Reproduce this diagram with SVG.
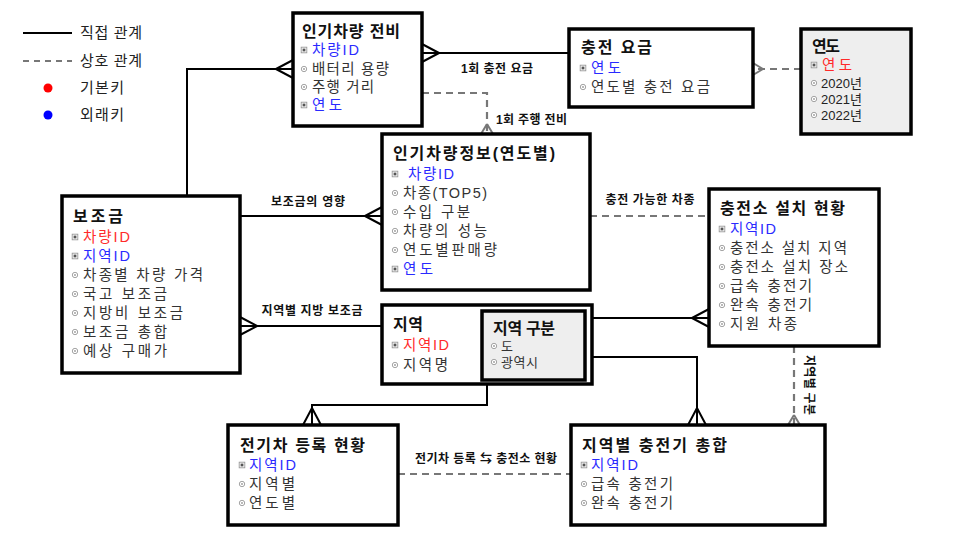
<svg xmlns="http://www.w3.org/2000/svg" xmlns:xlink="http://www.w3.org/1999/xlink" width="960" height="540" viewBox="0 0 960 540">
<style>
text{font-family:"Liberation Sans","Noto Sans CJK KR",sans-serif;}
.box{fill:#fff;stroke:#000;stroke-width:3.5;}
.gbox{fill:#eeeeee;stroke:#000;stroke-width:3.5;}
.title{font-size:16px;font-weight:bold;fill:#111;}
.at{font-size:14.5px;fill:#333;}
.fk{font-size:14.5px;fill:#2a2aff;}
.pk{font-size:14.5px;fill:#ff2a2a;}
.sm{font-size:13px;fill:#222;}
.solid{fill:none;stroke:#000;stroke-width:2;}
.dash{fill:none;stroke:#777;stroke-width:2.2;stroke-dasharray:7,5;}
.lbl{font-size:12px;font-weight:bold;fill:#111;}
.leg{font-size:15px;fill:#222;}
</style>
<defs>
<marker id="crow" markerUnits="userSpaceOnUse" markerWidth="40" markerHeight="40" viewBox="-20 -20 40 40" refX="0" refY="0" orient="auto" overflow="visible">
<path d="M-17,0 L0,-9 M-17,0 L0,9" fill="none" stroke="#000" stroke-width="2"/>
</marker>
<marker id="gcrow" markerUnits="userSpaceOnUse" markerWidth="40" markerHeight="40" viewBox="-20 -20 40 40" refX="0" refY="0" orient="auto" overflow="visible">
<path d="M-10,0 L0,-6 M-10,0 L0,6" fill="none" stroke="#777" stroke-width="2"/>
</marker>
<g id="ik"><rect x="-2.8" y="-2.8" width="5.6" height="5.6" fill="#fff" stroke="#999" stroke-width="0.9"/><rect x="-1.4" y="-1.4" width="2.8" height="2.8" fill="#555"/></g>
<g id="ia"><circle r="2.7" fill="#fff" stroke="#999" stroke-width="0.9"/><circle r="0.9" fill="#999"/></g>
</defs>
<rect width="960" height="540" fill="#fff"/>

<g id="legend">
<line x1="23" y1="33" x2="72" y2="33" class="solid"/>
<text x="80" y="38" class="leg" textLength="62">직접 관계</text>
<line x1="23" y1="61" x2="72" y2="61" class="dash" style="stroke-dasharray:6,5"/>
<text x="80" y="66" class="leg" textLength="62">상호 관계</text>
<circle cx="48" cy="88" r="4.5" fill="#ff0000"/>
<text x="80" y="93" class="leg" textLength="44">기본키</text>
<circle cx="48" cy="115" r="4.5" fill="#0000ff"/>
<text x="80" y="120" class="leg" textLength="44">외래키</text>
</g>

<g id="connectors">
<path d="M187,196 V69 H293" class="solid" marker-end="url(#crow)"/>
<path d="M569,53 H422" class="solid" marker-end="url(#crow)"/>
<path d="M801,69 H753" class="dash" marker-end="url(#gcrow)"/>
<path d="M422,93 H487 V134" class="dash" marker-end="url(#gcrow)"/>
<path d="M240,216 H382" class="solid" marker-end="url(#crow)"/>
<path d="M590,216 H709" class="dash"/>
<path d="M382,326 H240" class="solid" marker-end="url(#crow)"/>
<path d="M592,318 H709" class="solid" marker-end="url(#crow)"/>
<path d="M592,357 H697 V425" class="solid" marker-end="url(#crow)"/>
<path d="M487,384 V405 H312 V425" class="solid" marker-end="url(#crow)"/>
<path d="M794,346 V425" class="dash" marker-end="url(#gcrow)"/>
<path d="M398,474 H571" class="dash"/>
<text x="497" y="73" class="lbl" text-anchor="middle" textLength="72">1회 충전 요금</text>
<text x="496" y="124" class="lbl" textLength="71">1회 주행 전비</text>
<text x="308" y="206" class="lbl" text-anchor="middle" textLength="74">보조금의 영향</text>
<text x="650" y="204" class="lbl" text-anchor="middle" textLength="89">충전 가능한 차종</text>
<text x="312" y="315" class="lbl" text-anchor="middle" textLength="101">지역별 지방 보조금</text>
<text x="486" y="463" class="lbl" text-anchor="middle" textLength="142">전기차 등록 ⇆ 충전소 현황</text>
<text x="0" y="0" class="lbl" text-anchor="middle" textLength="60" transform="translate(805,385) rotate(90)">지역별 구분</text>
</g>

<g id="node-ev-efficiency">
<rect x="293" y="13" width="129" height="113" class="box"/>
<text x="302" y="37" class="title" textLength="98">인기차량 전비</text>
<use xlink:href="#ik" href="#ik" x="304" y="50"/><text x="312" y="55" class="fk" textLength="47">차량ID</text>
<use xlink:href="#ia" href="#ia" x="304" y="69"/><text x="312" y="74" class="at" textLength="77">배터리 용량</text>
<use xlink:href="#ia" href="#ia" x="304" y="87"/><text x="312" y="92" class="at" textLength="62">주행 거리</text>
<use xlink:href="#ik" href="#ik" x="304" y="105"/><text x="312" y="110" class="fk" textLength="30">연도</text>
</g>

<g id="node-charge-fee">
<rect x="569" y="29" width="184" height="78" class="box"/>
<text x="581" y="53" class="title" textLength="71">충전 요금</text>
<use xlink:href="#ik" href="#ik" x="583" y="68"/><text x="591" y="73" class="fk" textLength="30">연도</text>
<use xlink:href="#ia" href="#ia" x="583" y="87"/><text x="591" y="92" class="at" textLength="119">연도별 충전 요금</text>
</g>

<g id="node-year">
<rect x="801" y="29" width="110" height="105" class="gbox"/>
<text x="812" y="52" class="title" textLength="28">연도</text>
<use xlink:href="#ik" href="#ik" x="814" y="65"/><text x="822" y="70" class="pk" textLength="30">연도</text>
<use xlink:href="#ia" href="#ia" x="814" y="83"/><text x="821" y="88" class="sm" textLength="41">2020년</text>
<use xlink:href="#ia" href="#ia" x="814" y="99"/><text x="821" y="104" class="sm" textLength="41">2021년</text>
<use xlink:href="#ia" href="#ia" x="814" y="115"/><text x="821" y="120" class="sm" textLength="41">2022년</text>
</g>

<g id="node-popular-car">
<rect x="382" y="134" width="208" height="156" class="box"/>
<text x="393" y="159" class="title" textLength="162">인기차량정보(연도별)</text>
<use xlink:href="#ik" href="#ik" x="395" y="174"/><text x="408" y="179" class="fk" textLength="46">차량ID</text>
<use xlink:href="#ia" href="#ia" x="395" y="193"/><text x="403" y="198" class="at" textLength="84">차종(TOP5)</text>
<use xlink:href="#ia" href="#ia" x="395" y="212"/><text x="403" y="217" class="at" textLength="67">수입 구분</text>
<use xlink:href="#ia" href="#ia" x="395" y="231"/><text x="403" y="236" class="at" textLength="84">차량의 성능</text>
<use xlink:href="#ia" href="#ia" x="395" y="250"/><text x="403" y="255" class="at" textLength="94">연도별판매량</text>
<use xlink:href="#ik" href="#ik" x="395" y="269"/><text x="403" y="274" class="fk" textLength="30">연도</text>
</g>

<g id="node-station">
<rect x="709" y="189" width="170" height="157" class="box"/>
<text x="720" y="214" class="title" textLength="125">충전소 설치 현황</text>
<use xlink:href="#ik" href="#ik" x="722" y="229"/><text x="730" y="234" class="fk" textLength="46">지역ID</text>
<use xlink:href="#ia" href="#ia" x="722" y="248"/><text x="730" y="253" class="at" textLength="117">충전소 설치 지역</text>
<use xlink:href="#ia" href="#ia" x="722" y="267"/><text x="730" y="272" class="at" textLength="118">충전소 설치 장소</text>
<use xlink:href="#ia" href="#ia" x="722" y="286"/><text x="730" y="291" class="at" textLength="82">급속 충전기</text>
<use xlink:href="#ia" href="#ia" x="722" y="305"/><text x="730" y="310" class="at" textLength="82">완속 충전기</text>
<use xlink:href="#ia" href="#ia" x="722" y="324"/><text x="730" y="329" class="at" textLength="67">지원 차종</text>
</g>

<g id="node-subsidy">
<rect x="62" y="196" width="178" height="177" class="box"/>
<text x="73" y="222" class="title" textLength="50">보조금</text>
<use xlink:href="#ik" href="#ik" x="75" y="237"/><text x="83" y="242" class="pk" textLength="47">차량ID</text>
<use xlink:href="#ik" href="#ik" x="75" y="256"/><text x="83" y="261" class="fk" textLength="47">지역ID</text>
<use xlink:href="#ia" href="#ia" x="75" y="275"/><text x="83" y="280" class="at" textLength="120">차종별 차량 가격</text>
<use xlink:href="#ia" href="#ia" x="75" y="294"/><text x="83" y="299" class="at" textLength="84">국고 보조금</text>
<use xlink:href="#ia" href="#ia" x="75" y="313"/><text x="83" y="318" class="at" textLength="100">지방비 보조금</text>
<use xlink:href="#ia" href="#ia" x="75" y="332"/><text x="83" y="337" class="at" textLength="84">보조금 총합</text>
<use xlink:href="#ia" href="#ia" x="75" y="351"/><text x="83" y="356" class="at" textLength="84">예상 구매가</text>
</g>

<g id="node-region">
<rect x="382" y="305" width="210" height="79" class="box"/>
<text x="393" y="330" class="title" textLength="30">지역</text>
<use xlink:href="#ik" href="#ik" x="395" y="345"/><text x="403" y="350" class="pk" textLength="46">지역ID</text>
<use xlink:href="#ia" href="#ia" x="395" y="365"/><text x="403" y="370" class="at" textLength="45">지역명</text>
<g id="node-region-type">
<rect x="482" y="311" width="103" height="69" class="gbox"/>
<text x="493" y="334" class="title" textLength="62">지역 구분</text>
<use xlink:href="#ia" href="#ia" x="494" y="346"/><text x="501" y="351" class="sm" style="fill:#333">도</text>
<use xlink:href="#ia" href="#ia" x="494" y="362"/><text x="501" y="367" class="sm" style="fill:#333" textLength="37">광역시</text>
</g>
</g>

<g id="node-ev-registration">
<rect x="228" y="425" width="170" height="100" class="box"/>
<text x="240" y="451" class="title" textLength="125">전기차 등록 현황</text>
<use xlink:href="#ik" href="#ik" x="242" y="465"/><text x="249" y="470" class="fk" textLength="47">지역ID</text>
<use xlink:href="#ia" href="#ia" x="242" y="484"/><text x="249" y="489" class="at" textLength="46">지역별</text>
<use xlink:href="#ia" href="#ia" x="242" y="503"/><text x="249" y="508" class="at" textLength="46">연도별</text>
</g>

<g id="node-charger-total">
<rect x="571" y="425" width="254" height="100" class="box"/>
<text x="582" y="451" class="title" textLength="145">지역별 충전기 총합</text>
<use xlink:href="#ik" href="#ik" x="584" y="465"/><text x="591" y="470" class="fk" textLength="47">지역ID</text>
<use xlink:href="#ia" href="#ia" x="584" y="484"/><text x="591" y="489" class="at" textLength="82">급속 충전기</text>
<use xlink:href="#ia" href="#ia" x="584" y="503"/><text x="591" y="508" class="at" textLength="82">완속 충전기</text>
</g>
</svg>
